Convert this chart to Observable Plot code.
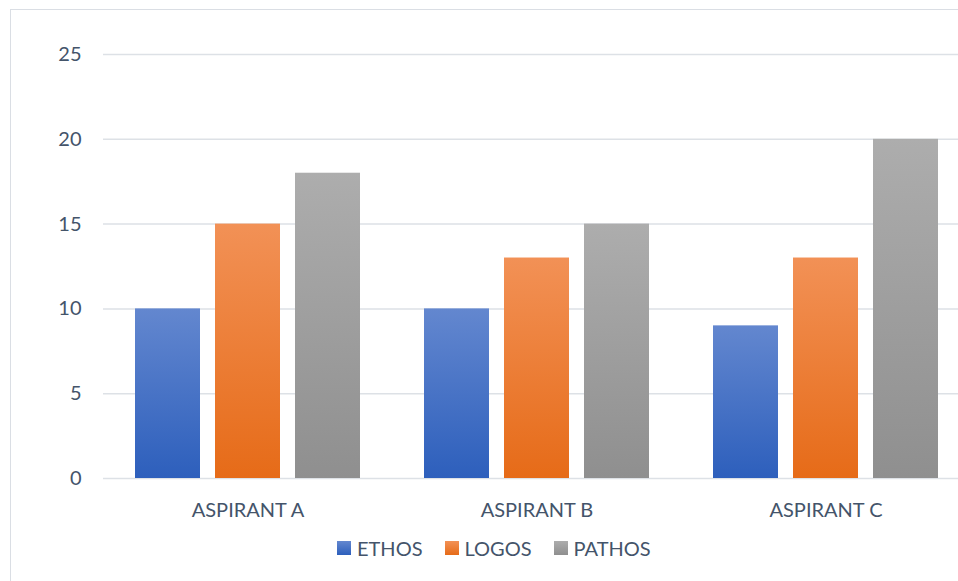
<!DOCTYPE html>
<html>
<head>
<meta charset="utf-8">
<script src="https://cdn.jsdelivr.net/npm/d3@7"></script>
<script src="https://cdn.jsdelivr.net/npm/@observablehq/plot@0.6"></script>
<style>
  html, body { margin: 0; padding: 0; background: #fff; }
  #chart { position: relative; width: 958px; height: 581px; overflow: hidden; font-family: Lato, "Open Sans", sans-serif; }
  #frame { position: absolute; left: 10px; top: 9px; right: -30px; bottom: -30px; border: 1px solid #dadee4; }
  #plot { position: absolute; left: 0; top: 0; width: 970px; }
  #plot svg { max-width: none !important; }
  #legend { position: absolute; top: 536px; left: 337px; display: flex; align-items: center; font-size: 20px; color: #44546a; white-space: nowrap; }
  .item { display: flex; align-items: center; margin-right: 22px; }
  .sw { width: 14px; height: 14px; margin-right: 6px; display: inline-block; }
</style>
</head>
<body>
<svg width="0" height="0" style="position:absolute">
  <defs>
    <linearGradient id="gEthos" x1="0" y1="0" x2="0" y2="1">
      <stop offset="0" stop-color="#6387cf"/>
      <stop offset="1" stop-color="#2d5fbc"/>
    </linearGradient>
    <linearGradient id="gLogos" x1="0" y1="0" x2="0" y2="1">
      <stop offset="0" stop-color="#f29156"/>
      <stop offset="1" stop-color="#e66b18"/>
    </linearGradient>
    <linearGradient id="gPathos" x1="0" y1="0" x2="0" y2="1">
      <stop offset="0" stop-color="#adadad"/>
      <stop offset="1" stop-color="#8f8f8f"/>
    </linearGradient>
  </defs>
</svg>
<div id="chart">
  <div id="frame"></div>
  <div id="plot"></div>
  <div id="legend"></div>
</div>
<script>
const categories = ["ASPIRANT A", "ASPIRANT B", "ASPIRANT C"];
const seriesNames = ["ETHOS", "LOGOS", "PATHOS"];
const ethos = [10, 10, 9];
const logos = [15, 13, 13];
const pathos = [18, 15, 20];
const yTicks = [0, 5, 10, 15, 20, 25];
const fills = ["url(#gEthos)", "url(#gLogos)", "url(#gPathos)"];
const swatchCss = [
  "linear-gradient(#6387cf, #2d5fbc)",
  "linear-gradient(#f29156, #e66b18)",
  "linear-gradient(#adadad, #8f8f8f)"
];

const seriesValues = [ethos, logos, pathos];
const data = [];
categories.forEach((c, i) => {
  seriesNames.forEach((s, j) => data.push({category: c, series: s, value: seriesValues[j][i]}));
});

const chart = Plot.plot({
  width: 970,
  height: 530,
  marginLeft: 103,
  marginRight: 0,
  marginTop: 54,
  marginBottom: 52,
  style: {fontFamily: "Lato, 'Open Sans', sans-serif", fontSize: "20px", color: "#44546a", background: "transparent", maxWidth: "none"},
  fx: {domain: categories, padding: 0, label: null, axis: null},
  x: {domain: seriesNames, paddingInner: 0.1875, paddingOuter: 0.4, axis: null},
  y: {domain: [0, 25], ticks: yTicks, label: null},
  color: {type: "ordinal", domain: seriesNames, range: fills},
  marks: [
    Plot.gridY(yTicks, {stroke: "#dde1e6", strokeOpacity: 1, strokeWidth: 1.5}),
    Plot.barY(data, {fx: "category", x: "series", y: "value", fill: "series", inset: 0}),
    Plot.axisY(yTicks, {tickSize: 0, tickPadding: 22, label: null, fill: "#44546a", fontSize: 20}),
    Plot.axisFx({anchor: "bottom", tickSize: 0, tickPadding: 24, label: null, fill: "#44546a", fontSize: 20})
  ]
});
document.getElementById("plot").appendChild(chart);

const legend = document.getElementById("legend");
seriesNames.forEach((s, i) => {
  const item = document.createElement("div");
  item.className = "item";
  const sw = document.createElement("span");
  sw.className = "sw";
  sw.style.background = swatchCss[i];
  const t = document.createElement("span");
  t.textContent = s;
  item.appendChild(sw);
  item.appendChild(t);
  legend.appendChild(item);
});
</script>
</body>
</html>
